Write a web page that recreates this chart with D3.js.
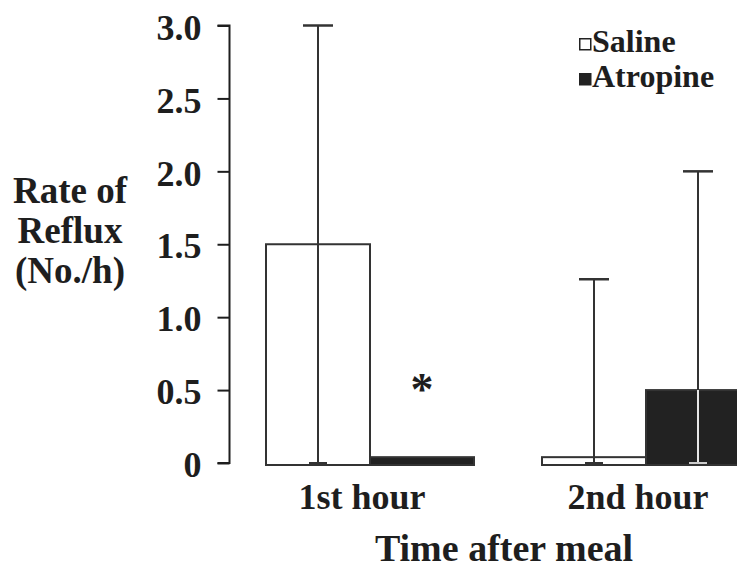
<!DOCTYPE html>
<html>
<head>
<meta charset="utf-8">
<script src="https://cdn.jsdelivr.net/npm/d3@7"></script>
<style>
  body { margin: 0; background: #fff; }
  text { font-family: "Liberation Serif", "Times New Roman", serif; font-weight: bold; fill: #1e1e1e; }
</style>
</head>
<body>
<div id="chart"></div>
<script>
const groups = ["1st hour", "2nd hour"];
const series = ["Saline", "Atropine"];
const salineMean = [1.5, 0.04];
const salineSD = [1.5, 1.22];
const atropineMean = [0.04, 0.5];
const atropineSD = [0, 1.5];
const yTicks = [0, 0.5, 1.0, 1.5, 2.0, 2.5, 3.0];
const sigMarks = [{group: "1st hour", series: "Atropine", at: 0.4}];

const width = 737, height = 573;
const ink = "#1e1e1e";

let svg = d3.select("#chart")
    .append("svg")
    .attr("width", width)
    .attr("height", height);

let y = d3.scaleLinear().domain([0, 3]).range([463, 25.5]);

let x0 = d3.scaleBand()
    .domain(groups)
    .range([266, 750])
    .paddingInner(68 / 276)
    .paddingOuter(0);

let x1 = d3.scaleBand()
    .domain(series)
    .range([0, x0.bandwidth()]);

// build rows from the arrays
let rows = [];
groups.forEach(function(g, i) {
    rows.push({group: g, series: "Saline", mean: salineMean[i], sd: salineSD[i]});
    rows.push({group: g, series: "Atropine", mean: atropineMean[i], sd: atropineSD[i]});
});

// y axis
let yAxis = svg.append("g")
    .attr("transform", "translate(229.5,0)")
    .call(d3.axisLeft(y).tickValues(yTicks).tickSize(12).tickPadding(16)
        .tickFormat(function(d) { return d === 0 ? "0" : d3.format(".1f")(d); }));
yAxis.select(".domain").attr("stroke", ink).attr("stroke-width", 2).attr("d", `M-12,${y(3)}H0V${y(0)}H-12`);
yAxis.selectAll(".tick line").attr("stroke", ink).attr("stroke-width", 2);
yAxis.selectAll(".tick text")
    .style("font-size", "36px")
    .attr("fill", ink)
    .attr("dy", "0.38em");

// bars
svg.selectAll("rect.bar")
    .data(rows)
    .enter()
    .append("rect")
    .attr("class", "bar")
    .attr("x", function(d) { return x0(d.group) + x1(d.series); })
    .attr("y", function(d) { return y(d.mean); })
    .attr("width", x1.bandwidth())
    .attr("height", function(d) { return y(0) - y(d.mean) + 2; })
    .attr("fill", function(d) { return d.series === "Saline" ? "#fff" : "#222"; })
    .attr("stroke", "#333")
    .attr("stroke-width", 2);

// error bars
let err = svg.selectAll("g.err")
    .data(rows.filter(function(d) { return d.sd > 0; }))
    .enter()
    .append("g")
    .attr("class", "err")
    .attr("transform", function(d) { return `translate(${x0(d.group) + x1(d.series) + x1.bandwidth() / 2},0)`; });

function lo(d) { return Math.max(0, d.mean - d.sd); }

err.append("line")
    .attr("y1", function(d) { return y(lo(d)); })
    .attr("y2", function(d) { return y(d.mean + d.sd); })
    .attr("stroke", "#333")
    .attr("stroke-width", 2);
// light stroke where the stem runs inside a dark bar
err.filter(function(d) { return d.series === "Atropine"; })
    .append("line")
    .attr("y1", function(d) { return y(lo(d)); })
    .attr("y2", function(d) { return y(d.mean); })
    .attr("stroke", "#e6e6e6")
    .attr("stroke-width", 2);
err.append("line")
    .attr("x1", -15).attr("x2", 15)
    .attr("y1", function(d) { return y(d.mean + d.sd); })
    .attr("y2", function(d) { return y(d.mean + d.sd); })
    .attr("stroke", "#333")
    .attr("stroke-width", 2.5);
err.append("line")
    .attr("x1", -9).attr("x2", 9)
    .attr("y1", function(d) { return y(lo(d)); })
    .attr("y2", function(d) { return y(lo(d)); })
    .attr("stroke", function(d) { return d.series === "Saline" ? "#333" : "#ccc"; })
    .attr("stroke-width", 2);

// significance mark
svg.selectAll("text.sig")
    .data(sigMarks)
    .enter()
    .append("text")
    .attr("class", "sig")
    .attr("x", function(d) { return x0(d.group) + x1(d.series) + x1.bandwidth() / 2; })
    .attr("y", function(d) { return y(d.at); })
    .attr("text-anchor", "middle")
    .style("font-size", "46px")
    .text("*");

// group labels
svg.selectAll("text.grp")
    .data(groups)
    .enter()
    .append("text")
    .attr("class", "grp")
    .attr("x", function(d) { return x0(d) + x0.bandwidth() / 2 - 8; })
    .attr("y", 509)
    .attr("text-anchor", "middle")
    .style("font-size", "36px")
    .text(function(d) { return d; });

svg.append("text")
    .attr("x", 504)
    .attr("y", 561)
    .attr("text-anchor", "middle")
    .style("font-size", "38px")
    .text("Time after meal");

// y title
let yTitle = svg.append("text")
    .attr("text-anchor", "middle")
    .style("font-size", "37px");
["Rate of", "Reflux", "(No./h)"].forEach(function(t, i) {
    yTitle.append("tspan").attr("x", 70).attr("y", 203 + i * 40).text(t);
});

// legend
let legend = svg.selectAll("g.leg")
    .data(series)
    .enter()
    .append("g")
    .attr("class", "leg")
    .attr("transform", function(d, i) { return `translate(579,${38 + i * 35})`; });
legend.append("rect")
    .attr("x", 0.75).attr("y", 0.75)
    .attr("width", 11).attr("height", 11)
    .attr("fill", function(d) { return d === "Saline" ? "#fff" : "#222"; })
    .attr("stroke", "#222")
    .attr("stroke-width", 1.5);
legend.append("text")
    .attr("x", 13)
    .attr("y", 14)
    .style("font-size", "32px")
    .text(function(d) { return d; });
</script>
</body>
</html>
